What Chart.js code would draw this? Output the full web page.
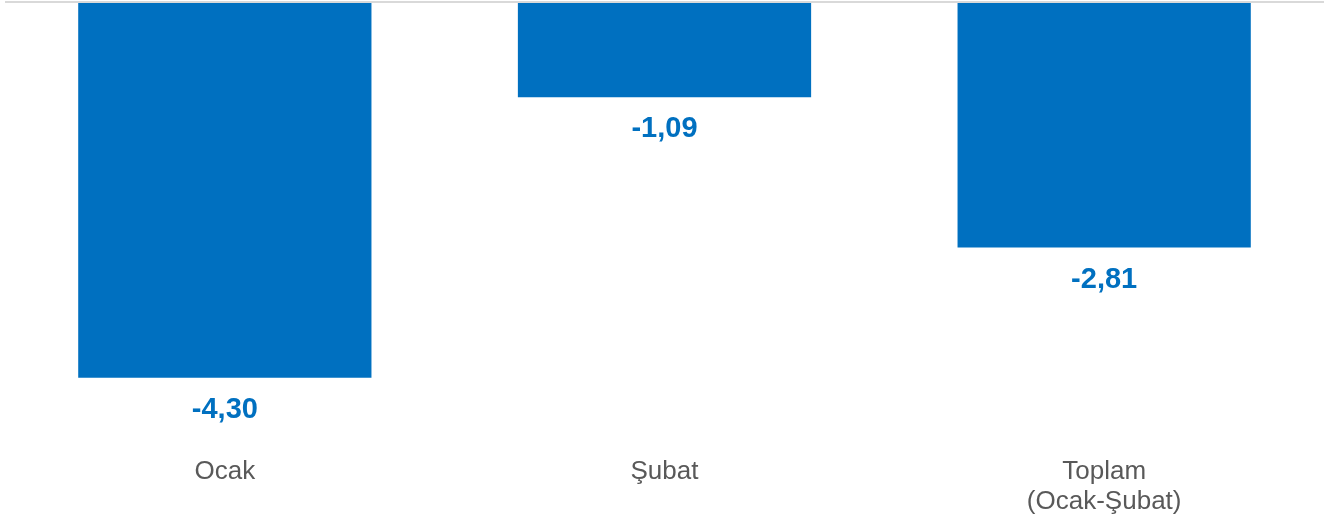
<!DOCTYPE html>
<html>
<head>
<meta charset="utf-8">
<script src="https://cdn.jsdelivr.net/npm/chart.js@4/dist/chart.umd.min.js"></script>
<style>
    html, body { margin: 0; padding: 0; background: #fff; }
    #chart { display: block; }
</style>
</head>
<body>
<canvas id="chart" width="1338" height="523"></canvas>
<script>
const categories = ["Ocak", "Şubat", ["Toplam", "(Ocak-Şubat)"]];
const values = [-4.30, -1.09, -2.81];
const yMin = -5;
const yMax = 0;

const barColor = "#0070C0";
const labelGray = "#595959";
const fontFamily = "'Liberation Sans', Arial, sans-serif";

// draws the value under each bar, turkish decimal comma
const valueLabels = {
    id: "valueLabels",
    afterDatasetsDraw(chart) {
        const ctx = chart.ctx;
        const meta = chart.getDatasetMeta(0);
        ctx.save();
        ctx.font = `bold 29px ${fontFamily}`;
        ctx.fillStyle = barColor;
        ctx.textAlign = "center";
        ctx.textBaseline = "middle";
        meta.data.forEach((bar, i) => {
            const text = values[i].toFixed(2).replace(".", ",");
            ctx.fillText(text, bar.x, bar.y + 32);
        });
        ctx.restore();
    },
};

const canvas = document.getElementById("chart");
new Chart(canvas.getContext("2d"), {
    type: "bar",
    data: {
        labels: categories,
        datasets: [
            {
                data: values,
                backgroundColor: barColor,
                borderWidth: 0,
                categoryPercentage: 1,
                barPercentage: 0.667,
            },
        ],
    },
    options: {
        responsive: false,
        animation: false,
        layout: {
            padding: { top: 2, left: 5, right: 14, bottom: 0 },
        },
        plugins: {
            legend: { display: false },
            tooltip: { enabled: false },
        },
        scales: {
            x: {
                grid: { display: false },
                border: { display: false },
                afterFit: (scale) => { scale.height = 84; },
                ticks: {
                    color: labelGray,
                    padding: 10,
                    maxRotation: 0,
                    font: { size: 26, family: fontFamily, lineHeight: 1.15 },
                },
            },
            y: {
                min: yMin,
                max: yMax,
                afterFit: (scale) => { scale.width = 0; },
                border: { display: false },
                ticks: { display: false },
                grid: {
                    drawTicks: false,
                    lineWidth: 2,
                    color: (c) => (c.tick && c.tick.value === 0 ? "#d9d9d9" : "transparent"),
                },
            },
        },
    },
    plugins: [valueLabels],
});
</script>
</body>
</html>
